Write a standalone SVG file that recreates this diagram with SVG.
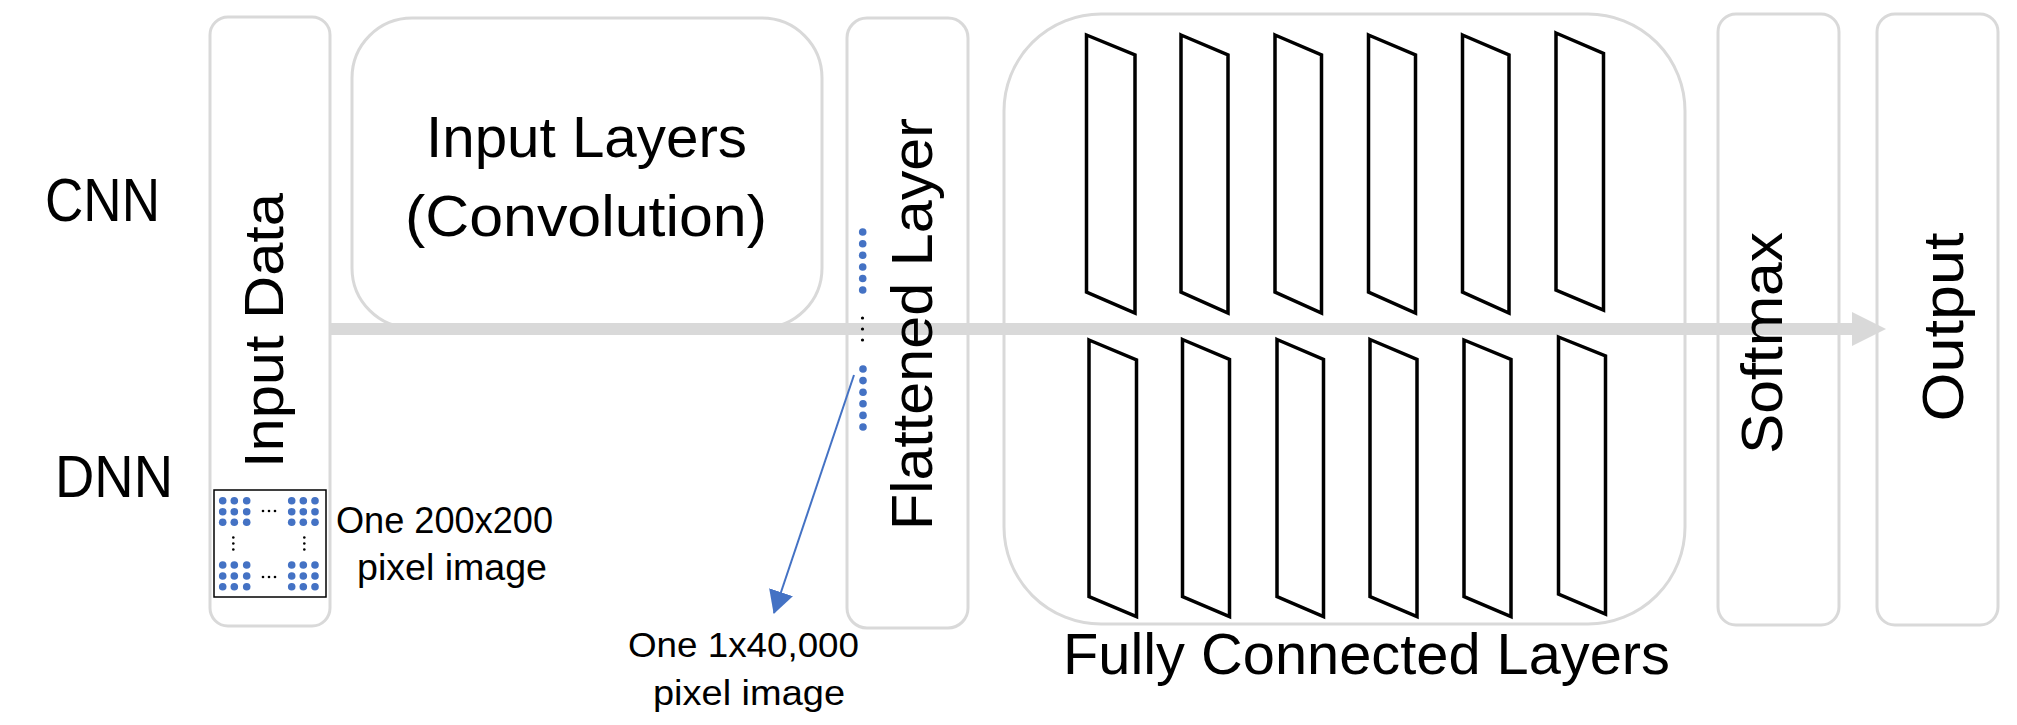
<svg xmlns="http://www.w3.org/2000/svg" width="2017" height="725" viewBox="0 0 2017 725">
  <style>
    .box { fill: #ffffff; stroke: #d9d9d9; stroke-width: 3; }
    .boxn { fill: none; stroke: #d9d9d9; stroke-width: 3; }
    .t { font-family: "Liberation Sans", Arial, sans-serif; fill: #000000; }
    .big { font-size: 58px; }
    .small { font-size: 36px; }
    .fc { fill: #ffffff; stroke: #000000; stroke-width: 3.5; stroke-linejoin: miter; }
    .bd { fill: #4472c4; }
    .kd { fill: #000000; }
  </style>
  <defs>
    <marker id="grayHead" viewBox="0 0 34 34" refX="2" refY="17" markerWidth="34" markerHeight="34" markerUnits="userSpaceOnUse" orient="auto">
      <path d="M0,0 L34,17 L0,34 z" fill="#d9d9d9"/>
    </marker>
    <marker id="blueHead" viewBox="0 0 23 25" refX="22" refY="12.5" markerWidth="23" markerHeight="25" markerUnits="userSpaceOnUse" orient="auto">
      <path d="M0,0 L23,12.5 L0,25 z" fill="#4472c4"/>
    </marker>
  </defs>

  <rect width="2017" height="725" fill="#ffffff"/>

  <!-- row labels -->
  <g id="label-cnn"><text class="t" x="45" y="221" font-size="61" textLength="115" lengthAdjust="spacingAndGlyphs">CNN</text></g>
  <g id="label-dnn"><text class="t" x="55" y="497" font-size="59" textLength="118" lengthAdjust="spacingAndGlyphs">DNN</text></g>

  <!-- background boxes (arrow drawn over these) -->
  <g id="input-layers">
    <rect class="box" x="352" y="18" width="470" height="310" rx="60" ry="60"/>
    <text class="t big" x="426" y="157" textLength="321" lengthAdjust="spacingAndGlyphs">Input Layers</text>
    <text class="t big" x="405" y="236" textLength="362" lengthAdjust="spacingAndGlyphs">(Convolution)</text>
  </g>

  <g id="flattened-layer">
    <rect class="box" x="847" y="18" width="121" height="610" rx="20" ry="20"/>
  </g>

  <g id="fully-connected">
    <rect class="box" x="1004" y="14" width="681" height="610" rx="97" ry="97"/>
  </g>

  <g id="softmax">
    <rect class="box" x="1718" y="14" width="121" height="611" rx="18" ry="18"/>
  </g>

  <g id="output">
    <rect class="box" x="1877" y="14" width="121" height="611" rx="18" ry="18"/>
  </g>

  <!-- connectors -->
  <g id="connectors">
    <line x1="212" y1="329" x2="1854" y2="329" stroke="#d9d9d9" stroke-width="12" marker-end="url(#grayHead)"/>
    <line x1="854" y1="375" x2="774" y2="613" stroke="#4472c4" stroke-width="2" marker-end="url(#blueHead)"/>
  </g>

  <!-- Input Data box (covers arrow start) -->
  <g id="input-data">
    <rect class="box" x="210" y="17" width="120" height="609" rx="18" ry="18"/>
    <text class="t" font-size="56" transform="translate(283 330.5) rotate(-90)" text-anchor="middle" textLength="275" lengthAdjust="spacingAndGlyphs">Input Data</text>
    <rect x="214" y="490" width="112" height="107" fill="#ffffff" stroke="#000000" stroke-width="1.5"/>
    <g class="bd">
      <circle cx="222.7" cy="500.7" r="3.8"/><circle cx="234.3" cy="500.7" r="3.8"/><circle cx="246.7" cy="500.7" r="3.8"/>
      <circle cx="222.7" cy="511.7" r="3.8"/><circle cx="234.3" cy="511.7" r="3.8"/><circle cx="246.7" cy="511.7" r="3.8"/>
      <circle cx="222.7" cy="522.3" r="3.8"/><circle cx="234.3" cy="522.3" r="3.8"/><circle cx="246.7" cy="522.3" r="3.8"/>
      <circle cx="291.7" cy="500.7" r="3.8"/><circle cx="303.3" cy="500.7" r="3.8"/><circle cx="315" cy="500.7" r="3.8"/>
      <circle cx="291.7" cy="511.7" r="3.8"/><circle cx="303.3" cy="511.7" r="3.8"/><circle cx="315" cy="511.7" r="3.8"/>
      <circle cx="291.7" cy="522.3" r="3.8"/><circle cx="303.3" cy="522.3" r="3.8"/><circle cx="315" cy="522.3" r="3.8"/>
      <circle cx="222.7" cy="565" r="3.8"/><circle cx="234.3" cy="565" r="3.8"/><circle cx="246.7" cy="565" r="3.8"/>
      <circle cx="222.7" cy="576" r="3.8"/><circle cx="234.3" cy="576" r="3.8"/><circle cx="246.7" cy="576" r="3.8"/>
      <circle cx="222.7" cy="586.7" r="3.8"/><circle cx="234.3" cy="586.7" r="3.8"/><circle cx="246.7" cy="586.7" r="3.8"/>
      <circle cx="291.7" cy="565" r="3.8"/><circle cx="303.3" cy="565" r="3.8"/><circle cx="315" cy="565" r="3.8"/>
      <circle cx="291.7" cy="576" r="3.8"/><circle cx="303.3" cy="576" r="3.8"/><circle cx="315" cy="576" r="3.8"/>
      <circle cx="291.7" cy="586.7" r="3.8"/><circle cx="303.3" cy="586.7" r="3.8"/><circle cx="315" cy="586.7" r="3.8"/>
    </g>
    <g class="kd">
      <circle cx="263" cy="511" r="1.3"/><circle cx="269" cy="511" r="1.3"/><circle cx="275" cy="511" r="1.3"/>
      <circle cx="263" cy="577" r="1.3"/><circle cx="269" cy="577" r="1.3"/><circle cx="275" cy="577" r="1.3"/>
      <circle cx="233.3" cy="537.5" r="1.3"/><circle cx="233.3" cy="543.5" r="1.3"/><circle cx="233.3" cy="549.5" r="1.3"/>
      <circle cx="304.3" cy="537.5" r="1.3"/><circle cx="304.3" cy="543.5" r="1.3"/><circle cx="304.3" cy="549.5" r="1.3"/>
    </g>
  </g>

  <g id="input-data-caption">
    <text class="t" font-size="37" x="336" y="533" textLength="217" lengthAdjust="spacingAndGlyphs">One 200x200</text>
    <text class="t" font-size="37" x="357" y="580" textLength="190" lengthAdjust="spacingAndGlyphs">pixel image</text>
  </g>

  <!-- flattened layer content -->
  <g id="flattened-content">
    <g class="bd">
      <circle cx="862.7" cy="232" r="3.8"/><circle cx="862.7" cy="243.7" r="3.8"/><circle cx="862.7" cy="255.3" r="3.8"/>
      <circle cx="862.7" cy="267" r="3.8"/><circle cx="862.7" cy="278.5" r="3.8"/><circle cx="862.7" cy="290" r="3.8"/>
      <circle cx="863" cy="369" r="3.8"/><circle cx="863" cy="380.6" r="3.8"/><circle cx="863" cy="392.2" r="3.8"/>
      <circle cx="863" cy="403.8" r="3.8"/><circle cx="863" cy="415.4" r="3.8"/><circle cx="863" cy="427" r="3.8"/>
    </g>
    <g class="kd">
      <circle cx="862.5" cy="318" r="1.6"/><circle cx="862.5" cy="329" r="1.6"/><circle cx="862.5" cy="340" r="1.6"/>
    </g>
    <text class="t big" transform="translate(932 324) rotate(-90)" text-anchor="middle" textLength="412" lengthAdjust="spacingAndGlyphs">Flattened Layer</text>
  </g>

  <g id="flattened-caption">
    <text class="t" font-size="35" x="628" y="657" textLength="231" lengthAdjust="spacingAndGlyphs">One 1x40,000</text>
    <text class="t" font-size="35" x="653" y="705" textLength="192" lengthAdjust="spacingAndGlyphs">pixel image</text>
  </g>

  <!-- fully connected layers content -->
  <g id="fc-layers">
    <polygon class="fc" points="1086.5,35 1135,55 1135,313 1086.5,292"/>
    <polygon class="fc" points="1181,35 1228,55 1228,313 1181,292"/>
    <polygon class="fc" points="1275,35 1321.5,55 1321.5,313 1275,292"/>
    <polygon class="fc" points="1368.5,35 1415.5,55 1415.5,313 1368.5,292"/>
    <polygon class="fc" points="1462.5,35 1509,55 1509,313 1462.5,292"/>
    <polygon class="fc" points="1556,33 1603.5,53.5 1603.5,310 1556,290"/>

    <polygon class="fc" points="1089,340 1136.5,360 1136.5,616.5 1089,596.5"/>
    <polygon class="fc" points="1182.5,339.5 1229.5,359.5 1229.5,616.5 1182.5,596.5"/>
    <polygon class="fc" points="1277,339.5 1323.5,359.5 1323.5,616.5 1277,596.5"/>
    <polygon class="fc" points="1370,339.5 1417,359.5 1417,616.5 1370,596.5"/>
    <polygon class="fc" points="1464,340 1511,359.5 1511,616.5 1464,596.5"/>
    <polygon class="fc" points="1558.5,337 1605.5,356 1605.5,614 1558.5,594"/>
    <text class="t big" x="1063" y="674" textLength="607" lengthAdjust="spacingAndGlyphs">Fully Connected Layers</text>
  </g>

  <g id="softmax-label">
    <text class="t big" transform="translate(1782 343) rotate(-90)" text-anchor="middle" textLength="222" lengthAdjust="spacingAndGlyphs">Softmax</text>
  </g>

  <g id="output-label">
    <text class="t big" transform="translate(1963 327) rotate(-90)" text-anchor="middle" textLength="189" lengthAdjust="spacingAndGlyphs">Output</text>
  </g>
</svg>
